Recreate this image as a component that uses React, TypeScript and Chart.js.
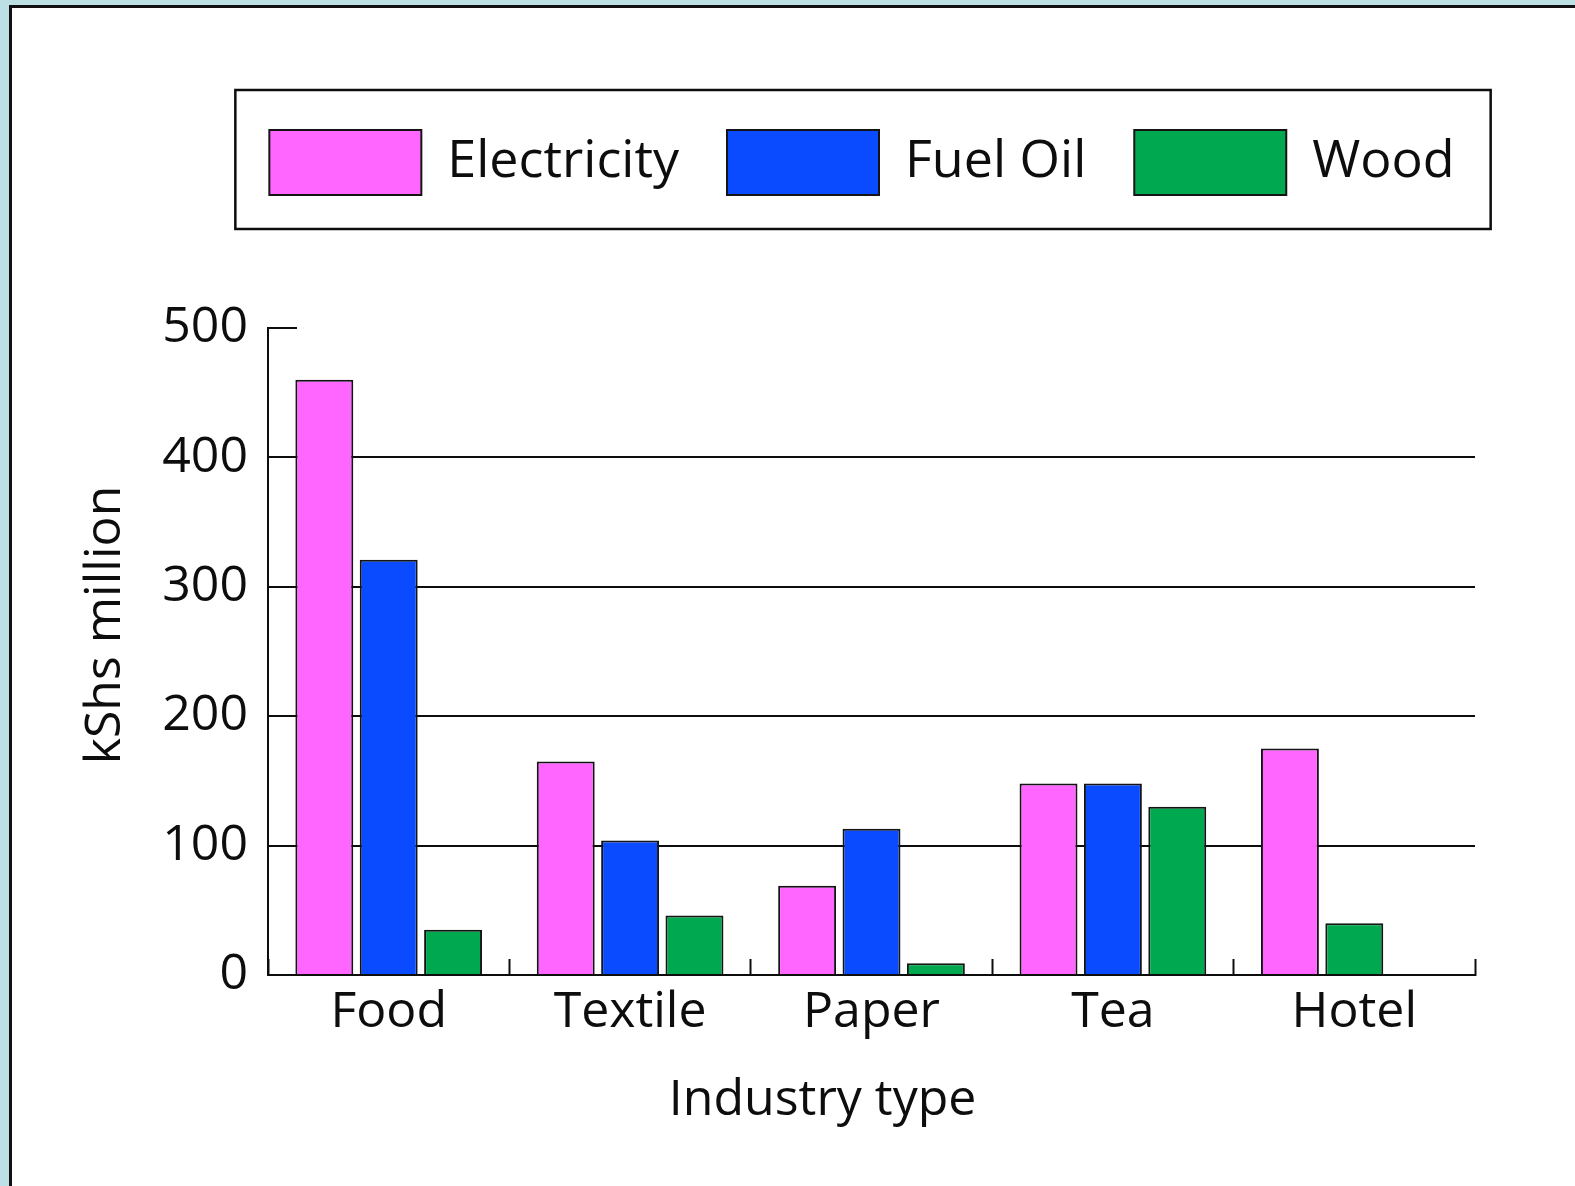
import { useEffect, useRef } from "react";
import { Chart, registerables } from "chart.js";

Chart.register(...registerables);

// ---- data ----
const industries = ["Food", "Textile", "Paper", "Tea", "Hotel"];
const electricity = [460, 165, 69, 148, 175];
const fuelOil: (number | null)[] = [321, 104, 113, 148, null];
const wood = [35, 46, 9, 130, 40];
const yTickValues = [0, 100, 200, 300, 400, 500];

const seriesNames = ["Electricity", "Fuel Oil", "Wood"];
const seriesColors = ["#ff66ff", "#0a4bff", "#00a84f"];
const yAxisTitle = "kShs million";
const xAxisTitle = "Industry type";

const FONT = "'Open Sans', 'Noto Sans', sans-serif";
const INK = "#0d0d0d";

// Where an industry has no fuel-oil figure, its wood bar takes the empty fuel-oil slot.
const woodInOwnSlot = wood.map((v, i) => (fuelOil[i] == null ? null : v));
const woodInFuelSlot = wood.map((v, i) => (fuelOil[i] == null ? v : null));

const CANVAS_W = 1563;
const CANVAS_H = 1178;
const LEGEND_PAD = 48;

// Legend spacing and frame
const legendFrame = {
  id: "legendFrame",
  beforeInit(chart: any) {
    const legend = chart.legend;
    const baseFit = legend.fit;
    legend.fit = function () {
      baseFit.call(this);
      this.height = 246;
    };
  },
  afterUpdate(chart: any) {
    const legend = chart.legend;
    const hb = legend.legendHitBoxes;
    if (!hb || !hb.length) return;
    const a = chart.chartArea;
    const first = hb[0];
    const last = hb[hb.length - 1];
    const center = (first.left + last.left + last.width) / 2;
    const target = (a.left + a.right) / 2 - 9.5;
    const shift = target - center;
    legend.left += shift;
    legend.right += shift;
    for (const h of hb) h.left += shift;
  },
  afterDraw(chart: any) {
    const hb = chart.legend.legendHitBoxes;
    if (!hb || !hb.length) return;
    const first = hb[0];
    const last = hb[hb.length - 1];
    const { ctx } = chart;
    ctx.save();
    ctx.strokeStyle = INK;
    ctx.lineWidth = 2.5;
    const left = first.left - 34;
    const right = last.left + last.width + 36;
    const top = first.top - 40;
    const bottom = first.top + 65 + 34;
    ctx.strokeRect(left, top, right - left, bottom - top);
    ctx.restore();
  },
};

// Axis titles
const axisCaptions = {
  id: "axisCaptions",
  afterDraw(chart: any) {
    const { ctx, chartArea: a } = chart;
    ctx.save();
    ctx.fillStyle = INK;
    ctx.font = `50px ${FONT}`;
    ctx.textAlign = "center";
    ctx.textBaseline = "alphabetic";
    ctx.fillText(xAxisTitle, a.left + a.width * 0.4595, a.bottom + 140);
    ctx.translate(a.left - 148.5, (a.top + a.bottom) / 2 - 26.5);
    ctx.rotate(-Math.PI / 2);
    ctx.fillText(yAxisTitle, 0, 0);
    ctx.restore();
  },
};

export default function App() {
  const ref = useRef<HTMLCanvasElement>(null);

  useEffect(() => {
    const canvas = ref.current;
    if (!canvas) return;

    const barStyle = (i: number) => ({
      backgroundColor: seriesColors[i],
      borderColor: "#141414",
      borderWidth: 2,
      categoryPercentage: 0.8,
      barPercentage: 0.9,
    });

    const chart = new Chart(canvas, {
      type: "bar",
      data: {
        labels: industries,
        datasets: [
          { label: seriesNames[0], data: electricity, stack: "electricity", ...barStyle(0) },
          { label: seriesNames[1], data: fuelOil, stack: "fuel", ...barStyle(1) },
          { label: seriesNames[2], data: woodInOwnSlot, stack: "wood", ...barStyle(2) },
          { label: seriesNames[2], data: woodInFuelSlot, stack: "fuel", ...barStyle(2) },
        ],
      },
      options: {
        responsive: false,
        animation: false,
        devicePixelRatio: 1,
        layout: { padding: { top: 74, left: 0, right: 100, bottom: 0 } },
        plugins: {
          legend: {
            position: "top",
            labels: {
              boxWidth: 152,
              boxHeight: 65,
              padding: LEGEND_PAD,
              color: INK,
              font: { family: FONT, size: 52 },
              filter: (item: any) => item.datasetIndex < 3,
            },
          },
          tooltip: { enabled: false },
          title: { display: false },
        },
        scales: {
          x: {
            type: "category",
            offset: true,
            afterFit: (scale: any) => {
              scale.height = 211;
            },
            grid: {
              offset: true,
              drawOnChartArea: false,
              drawTicks: true,
              tickLength: -16,
              tickColor: INK,
              tickWidth: 2,
            },
            border: { display: true, color: INK, width: 2 },
            ticks: {
              color: INK,
              padding: 24,
              font: { family: FONT, size: 50 },
            },
          },
          y: {
            min: 0,
            max: 500,
            afterFit: (scale: any) => {
              scale.width = 256;
            },
            afterBuildTicks: (scale: any) => {
              scale.ticks = yTickValues.map((v) => ({ value: v }));
            },
            grid: {
              color: (ctx: any) =>
                ctx.tick && (ctx.tick.value === 0 || ctx.tick.value === 500)
                  ? "rgba(0,0,0,0)"
                  : INK,
              lineWidth: 2,
              drawTicks: true,
              tickLength: -29,
              tickColor: INK,
              tickWidth: 2,
            },
            border: { display: true, color: INK, width: 2 },
            ticks: {
              color: INK,
              padding: 49,
              font: { family: FONT, size: 50 },
            },
          },
        },
      },
      plugins: [legendFrame, axisCaptions],
    } as any);

    return () => chart.destroy();
  }, []);

  return (
    <div
      style={{
        position: "fixed",
        left: 0,
        top: 0,
        width: 1575,
        height: 1186,
        background: "#bde0e5",
        overflow: "hidden",
      }}
    >
      <div
        style={{
          position: "absolute",
          left: 9,
          top: 5,
          width: 1600,
          height: 1200,
          background: "#ffffff",
          borderTop: "3px solid #111",
          borderLeft: "3px solid #111",
        }}
      />
      <canvas
        ref={ref}
        width={CANVAS_W}
        height={CANVAS_H}
        style={{ position: "absolute", left: 12, top: 8, width: CANVAS_W, height: CANVAS_H }}
      />
    </div>
  );
}
